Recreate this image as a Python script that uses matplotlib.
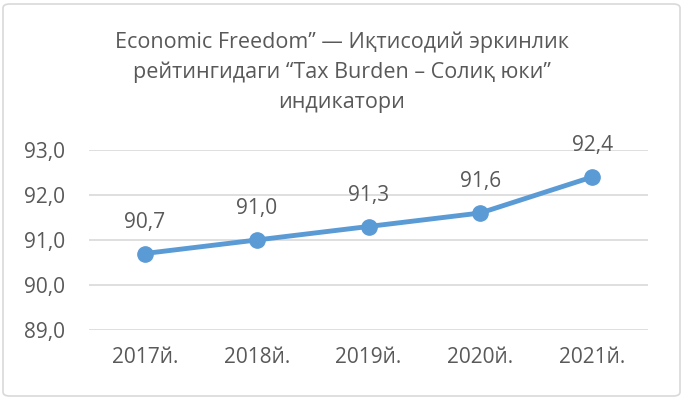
import matplotlib.pyplot as plt
from matplotlib.patches import FancyBboxPatch

years = ["2017й.", "2018й.", "2019й.", "2020й.", "2021й."]
values = [90.7, 91.0, 91.3, 91.6, 92.4]
yticks = [89.0, 90.0, 91.0, 92.0, 93.0]

title = ("Economic Freedom\u201d \u2014 Иқтисодий эркинлик\n"
         "рейтингидаги \u201cTax Burden \u2013 Солиқ юки\u201d\n"
         "индикатори")

plt.rcParams['font.family'] = ['Open Sans', 'DejaVu Sans']
gray = '#595959'
blue = '#5B9BD5'

fig = plt.figure(figsize=(6.84, 3.99), dpi=100)
ax = fig.add_axes([89/684, 69/399, 559/684, 180/399])

x = list(range(len(years)))
ax.plot(x, values, color=blue, lw=3.5, marker='o', ms=11, solid_capstyle='round')
for xi, v in zip(x, values):
    ax.annotate(f"{v:.1f}".replace('.', ','), (xi, v), xytext=(0, 15),
                textcoords='offset points', ha='center', va='bottom',
                fontsize=15, color=gray)

ax.set_xlim(-0.5, len(years) - 0.5)
ax.set_ylim(89, 93)
ax.set_yticks(yticks)
ax.set_yticklabels([f"{t:.1f}".replace('.', ',') for t in yticks])
ax.set_xticks(x)
ax.set_xticklabels(years)
ax.tick_params(length=0, labelsize=15, labelcolor=gray)
ax.tick_params(axis='y', pad=17)
ax.tick_params(axis='x', pad=12)
ax.yaxis.grid(True, color='#d9d9d9', lw=1.2)
ax.set_axisbelow(True)
for s in ax.spines.values():
    s.set_visible(False)

fig.text(0.5, 1 - 72/399, title, ha='center', va='center',
         fontsize=15.5, color=gray, linespacing=1.55)

border = FancyBboxPatch((3/684, 3/399), 677/684, 392/399,
                        boxstyle='round,pad=0,rounding_size=0.01',
                        transform=fig.transFigure, fill=False,
                        edgecolor='#d9d9d9', lw=1.2)
fig.patches.append(border)

fig.savefig("out.png", dpi=100)
